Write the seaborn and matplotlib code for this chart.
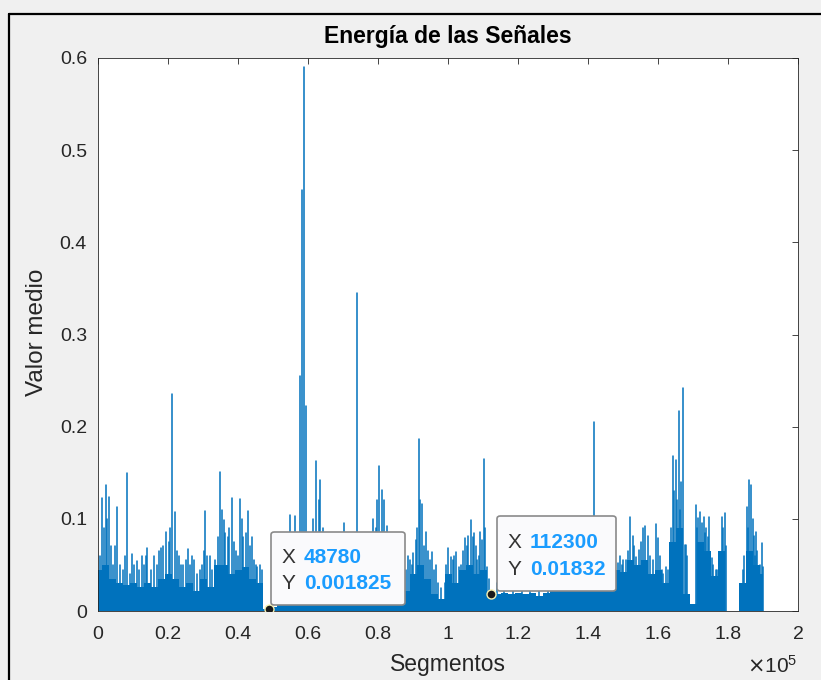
import numpy as np
import pandas as pd
import matplotlib
matplotlib.use("Agg")
import matplotlib.pyplot as plt
import seaborn as sns
from matplotlib.lines import Line2D
from matplotlib.patches import FancyBboxPatch

# ---------------- data ----------------
title = "Energía de las Señales"
xlabel = "Segmentos"
ylabel = "Valor medio"

# dense low-level envelope, sampled every 2000 segments
base_x = [0, 2000, 4000, 6000, 8000, 10000, 12000, 14000, 16000, 18000,
          20000, 22000, 24000, 26000, 28000, 30000, 32000, 34000, 36000, 38000,
          40000, 42000, 44000, 46000, 48000, 50000, 52000, 54000, 56000, 58000,
          60000, 62000, 64000, 66000, 68000, 70000, 72000, 74000, 76000, 78000,
          80000, 82000, 84000, 86000, 88000, 90000, 92000, 94000, 96000, 98000,
          100000, 102000, 104000, 106000, 108000, 110000, 112000, 114000, 116000, 118000,
          120000, 122000, 124000, 126000, 128000, 130000, 132000, 134000, 136000, 138000,
          140000, 142000, 144000, 146000, 148000, 150000, 152000, 154000, 156000, 158000,
          160000, 162000, 164000, 166000, 168000, 170000, 172000, 174000, 176000, 178000,
          180000, 182000, 184000, 186000, 188000, 190000]
base_y = [0.045, 0.050, 0.035, 0.030, 0.028, 0.030, 0.026, 0.030, 0.026, 0.035,
          0.040, 0.035, 0.026, 0.030, 0.022, 0.035, 0.026, 0.050, 0.050, 0.040,
          0.045, 0.048, 0.035, 0.030, 0.002, 0.004, 0.008, 0.018, 0.025, 0.040,
          0.025, 0.025, 0.022, 0.018, 0.018, 0.022, 0.018, 0.022, 0.026, 0.035,
          0.040, 0.035, 0.018, 0.018, 0.022, 0.040, 0.050, 0.035, 0.018, 0.013,
          0.040, 0.030, 0.045, 0.050, 0.040, 0.045, 0.018, 0.018, 0.020, 0.018,
          0.020, 0.018, 0.020, 0.016, 0.020, 0.022, 0.022, 0.025, 0.027, 0.029,
          0.032, 0.040, 0.042, 0.038, 0.045, 0.042, 0.055, 0.050, 0.055, 0.040,
          0.045, 0.030, 0.075, 0.090, 0.018, 0.008, 0.075, 0.065, 0.038, 0.065,
          0.000, 0.000, 0.030, 0.065, 0.050, 0.040]

# individual tall spikes
spike_x = [1200, 2300, 3100, 5400, 8300, 9600, 11000, 12500, 14100, 16000,
           18000, 19300, 21200, 22000, 23700, 25600, 27500, 30600, 32000, 34900,
           35900, 37000, 38200, 40700, 41500, 42800, 43900, 45500, 46300,
           54900, 56300, 57600, 58200, 58800, 59500, 60500, 61500, 62300, 63000,
           63400, 64200, 67500, 70300, 74100, 77500, 78700, 79800, 80400, 81000,
           81600, 82700, 88600, 90000, 90800, 91700, 92500, 93700, 95300, 96500,
           100000, 100800, 102200, 103000, 104900, 105800, 106600, 107500, 108300, 109200,
           109800, 110300, 111200, 141700, 142500, 146000, 148500, 150000, 152000, 152800,
           153700, 154600, 155600, 156300, 157200, 158200, 159300, 160000, 161000, 162200,
           163300, 164200, 165000, 165900, 166500, 167000, 167600, 168000, 170900, 171500,
           172000, 173000, 173800, 174600, 175300, 176500, 177300, 178200, 179000, 184200,
           185300, 186100, 186600, 187300, 188000, 188800, 189600, 190100]
spike_y = [0.123, 0.137, 0.124, 0.113, 0.150, 0.062, 0.054, 0.060, 0.068, 0.060,
           0.068, 0.086, 0.235, 0.107, 0.050, 0.067, 0.055, 0.108, 0.060, 0.151,
           0.099, 0.080, 0.123, 0.121, 0.080, 0.109, 0.080, 0.048, 0.050,
           0.104, 0.103, 0.255, 0.457, 0.590, 0.222, 0.080, 0.100, 0.163, 0.120,
           0.142, 0.090, 0.080, 0.096, 0.345, 0.085, 0.100, 0.120, 0.157, 0.131,
           0.120, 0.092, 0.060, 0.063, 0.077, 0.187, 0.116, 0.086, 0.064, 0.050,
           0.068, 0.059, 0.064, 0.048, 0.079, 0.081, 0.099, 0.085, 0.055, 0.086,
           0.077, 0.165, 0.048, 0.205, 0.050, 0.050, 0.052, 0.055, 0.102, 0.081,
           0.059, 0.066, 0.090, 0.092, 0.081, 0.034, 0.094, 0.079, 0.044, 0.048,
           0.025, 0.168, 0.164, 0.217, 0.140, 0.242, 0.072, 0.072, 0.115, 0.101,
           0.107, 0.102, 0.090, 0.102, 0.057, 0.044, 0.037, 0.102, 0.106, 0.044,
           0.113, 0.142, 0.137, 0.081, 0.086, 0.037, 0.074, 0.048]

# medium spikes inside the dense bands
minor_x = [500, 1700, 2700, 3600, 4300, 4800, 6200, 7000, 7600, 9000,
           10300, 11600, 13200, 13700, 15200, 16800, 17300, 18600, 20200, 20700,
           22600, 23200, 24400, 25000, 26200, 26800, 28300, 29000, 29600, 30200,
           31200, 32600, 33400, 34300, 35400, 36400, 37500, 38800, 39400, 40100,
           41000, 42200, 43300, 44500, 45000, 46800,
           53000, 55500, 57000, 60000, 61000, 63800, 65000, 66000, 68500, 69500,
           71500, 72500, 73000, 75500, 76500, 78000, 79300, 82000, 83500, 85000,
           86500, 87500,
           88000, 89200, 89800, 91200, 92000, 93100, 94300, 94800, 95900, 97000,
           98000, 99000, 99500, 101300, 101700, 103600, 104300, 105300, 107000, 108000,
           108800, 110700, 111600,
           114000, 116000, 118500, 121000, 123500, 126000, 128500, 131000, 133500, 136000,
           138500, 140000,
           143500, 144500, 145300, 147000, 147800, 149000, 149700, 150800, 151400, 153200,
           155000, 157800, 158700, 160600, 161500, 162800, 163800, 164600, 165400, 166200,
           168400, 171200, 172500, 173400, 174200, 175800, 176900, 177700, 178600, 179400,
           184700, 185700, 187000, 187600, 188400, 189200]
minor_y = [0.060, 0.090, 0.100, 0.070, 0.050, 0.070, 0.050, 0.045, 0.060, 0.040,
           0.050, 0.045, 0.050, 0.060, 0.045, 0.050, 0.065, 0.070, 0.075, 0.090,
           0.065, 0.060, 0.050, 0.055, 0.050, 0.060, 0.040, 0.045, 0.050, 0.065,
           0.060, 0.045, 0.055, 0.080, 0.110, 0.085, 0.090, 0.075, 0.065, 0.060,
           0.100, 0.085, 0.070, 0.055, 0.050, 0.045,
           0.030, 0.050, 0.060, 0.050, 0.060, 0.070, 0.050, 0.040, 0.050, 0.035,
           0.040, 0.040, 0.050, 0.040, 0.050, 0.070, 0.090, 0.080, 0.050, 0.030,
           0.035, 0.040,
           0.045, 0.055, 0.050, 0.090, 0.120, 0.070, 0.065, 0.055, 0.045, 0.030,
           0.025, 0.030, 0.050, 0.055, 0.060, 0.050, 0.065, 0.070, 0.080, 0.070,
           0.060, 0.090, 0.035,
           0.030, 0.025, 0.030, 0.028, 0.030, 0.025, 0.030, 0.035, 0.035, 0.040,
           0.045, 0.050,
           0.050, 0.055, 0.045, 0.060, 0.050, 0.060, 0.050, 0.055, 0.065, 0.070,
           0.075, 0.060, 0.055, 0.060, 0.040, 0.045, 0.090, 0.130, 0.120, 0.110,
           0.060, 0.090, 0.095, 0.085, 0.080, 0.050, 0.045, 0.050, 0.090, 0.070,
           0.060, 0.090, 0.100, 0.060, 0.065, 0.050]

# data tips
tip_x = [48780, 112300]
tip_y = [0.001825, 0.01832]
tip_xtext = ["48780", "112300"]
tip_ytext = ["0.001825", "0.01832"]

xticks = [0, 20000, 40000, 60000, 80000, 100000, 120000, 140000, 160000, 180000, 200000]
xtick_labels = ["0", "0.2", "0.4", "0.6", "0.8", "1", "1.2", "1.4", "1.6", "1.8", "2"]
yticks = [0, 0.1, 0.2, 0.3, 0.4, 0.5, 0.6]
ytick_labels = ["0", "0.1", "0.2", "0.3", "0.4", "0.5", "0.6"]

# ---------------- drawing ----------------
sns.set_theme(style="white")
plt.rcParams["font.family"] = ["Liberation Sans", "DejaVu Sans"]

W, H = 821, 680
fig = plt.figure(figsize=(W / 100, H / 100), dpi=100, facecolor="#f0f0f0")
L, R, T, B = 98, 798, 58, 611
ax = fig.add_axes([L / W, 1 - B / H, (R - L) / W, (B - T) / H])
ax.set_facecolor("white")

blue = "#0072BD"

# dense envelope
base_df = pd.DataFrame({"x": base_x, "y": base_y})
ax.fill_between(base_df["x"], 0, base_df["y"], color=blue, lw=0, step="mid")

# spikes (tall and medium)
rows = []
uid = 0
for sx, sy in list(zip(spike_x, spike_y)) + list(zip(minor_x, minor_y)):
    rows.append((sx, 0.0, uid))
    rows.append((sx, sy, uid))
    uid += 1
spk = pd.DataFrame(rows, columns=["x", "y", "id"])
sns.lineplot(data=spk, x="x", y="y", units="id", estimator=None, sort=False,
             ax=ax, color=blue, lw=1.1, legend=False)

ax.set_xlim(0, 200000)
ax.set_ylim(0, 0.6)
ax.set_xticks(xticks)
ax.set_xticklabels(xtick_labels)
ax.set_yticks(yticks)
ax.set_yticklabels(ytick_labels)
tc = "#262626"
ax.tick_params(axis="both", direction="in", length=4.5, width=0.6, colors=tc,
               labelsize=14, top=True, right=True)
ax.tick_params(axis="x", pad=11)
ax.tick_params(axis="y", pad=8)
for s in ax.spines.values():
    s.set_visible(True)
    s.set_color(tc)
    s.set_linewidth(0.6)
ax.set_xlabel("")
ax.set_ylabel("")

fig.text((L + R) / 2 / W, 1 - 37 / H, title, ha="center", va="center",
         fontsize=16.5, fontweight="bold", color="black")
fig.text((L + R) / 2 / W, 1 - 665 / H, xlabel, ha="center", va="center",
         fontsize=16.5, color=tc)
fig.text(37 / W, 1 - 332 / H, ylabel, ha="center", va="center", rotation=90,
         fontsize=17.5, color=tc)
fig.text(747 / W, 1 - 666 / H, r"$\times\mathregular{10^5}$", ha="left", va="center",
         fontsize=15, color=tc)

# data tips
sns.scatterplot(x=tip_x, y=tip_y, ax=ax, s=42, color="#1a1a1a",
                edgecolor="#f5f0b0", linewidth=1.0, zorder=6, legend=False)

tip_boxes = [(271, 532, 405, 605), (497, 516, 616, 591)]
valc = "#1a9cff"
for (x0, y0, x1, y1), xt, yt in zip(tip_boxes, tip_xtext, tip_ytext):
    box = FancyBboxPatch((x0 / W, 1 - y1 / H), (x1 - x0) / W, (y1 - y0) / H,
                         boxstyle="round,pad=0,rounding_size=0.004",
                         transform=fig.transFigure, facecolor="#fafafc",
                         edgecolor="#8a8a8a", lw=1.2, zorder=7)
    fig.add_artist(box)
    ty1 = y0 + (y1 - y0) * 0.35
    ty2 = y0 + (y1 - y0) * 0.71
    fig.text((x0 + 11) / W, 1 - ty1 / H, "X", ha="left", va="center",
             fontsize=15, color="#333333", zorder=8)
    fig.text((x0 + 11) / W, 1 - ty2 / H, "Y", ha="left", va="center",
             fontsize=15, color="#333333", zorder=8)
    fig.text((x0 + 33) / W, 1 - ty1 / H, xt, ha="left", va="center",
             fontsize=15, color=valc, fontweight="bold", zorder=8)
    fig.text((x0 + 33) / W, 1 - ty2 / H, yt, ha="left", va="center",
             fontsize=15, color=valc, fontweight="bold", zorder=8)

# screenshot frame
fig.add_artist(Line2D([9 / W, 9 / W], [0, 1 - 14 / H], transform=fig.transFigure,
                      color="black", lw=1.6))
fig.add_artist(Line2D([9 / W, 1], [1 - 14 / H, 1 - 14 / H], transform=fig.transFigure,
                      color="black", lw=1.6))

fig.savefig("out.png", dpi=100, facecolor=fig.get_facecolor())
